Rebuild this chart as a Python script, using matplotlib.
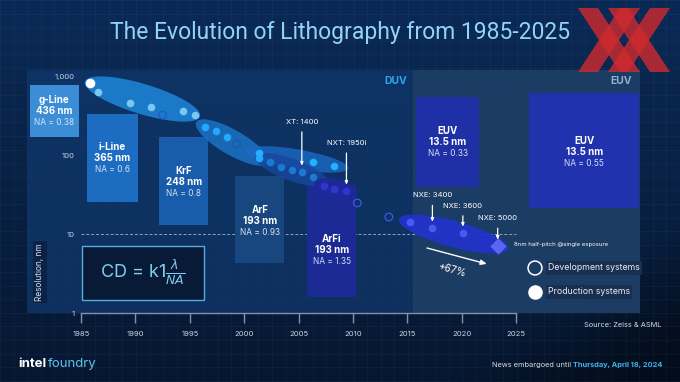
import numpy as np
import matplotlib
matplotlib.use('Agg')
import matplotlib.pyplot as plt
from matplotlib.patches import Rectangle, Polygon
from matplotlib.colors import to_rgb

W, H, DPI = 680, 382, 100

# ---------------- data ----------------
# light-source boxes (year span, resolution span in nm)
src_names = ['g-Line', 'i-Line', 'KrF', 'ArF', 'ArFi', 'EUV', 'EUV']
src_wavelength = ['436 nm', '365 nm', '248 nm', '193 nm', '193 nm', '13.5 nm', '13.5 nm']
src_na = ['NA = 0.38', 'NA = 0.6', 'NA = 0.8', 'NA = 0.93', 'NA = 1.35', 'NA = 0.33', 'NA = 0.55']
src_start = [1980.3, 1985.6, 1992.2, 1999.2, 2005.8, 2015.8, 2026.2]
src_end = [1984.8, 1990.2, 1996.7, 2003.7, 2010.3, 2021.6, 2036.3]
src_top = [789, 338, 172, 55, 42, 556, 624]
src_bottom = [172, 25.7, 13.1, 4.3, 1.6, 40, 21.6]
src_label_y = [369, 93, 46, 14.8, 6.3, 149, 111]

# systems (year, resolution nm); dev = development system (open ring)
g1_years = [1985.8, 1986.6, 1989.5, 1991.4, 1992.5, 1994.4, 1995.5]
g1_res = [836, 643, 466, 415, 328, 369, 328]
g1_dev = [False, False, False, False, True, False, False]

g2_years = [1996.4, 1997.4, 1998.4, 1999.3, 2001.4]
g2_res = [231, 205, 172, 140, 93]
g2_dev = [False, False, False, True, False]

g3_years = [2001.4, 2006.3, 2008.3]
g3_res = [108, 83, 74]
g3_dev = [False, False, False]

g4_years = [2002.4, 2003.4, 2004.4, 2005.3, 2006.3]
g4_res = [83, 72, 66, 62, 53]
g4_dev = [False, False, False, False, False]

g5_years = [2007.3, 2008.3, 2009.4, 2010.4]
g5_res = [41, 38, 35.5, 25]
g5_dev = [False, False, False, True]

g6_years = [2013.3, 2015.2, 2017.3, 2020.1]
g6_res = [16.6, 14.3, 12.0, 10.4]
g6_dev = [True, False, False, False]

nxe5000_year, nxe5000_res = 2023.3, 7.1

year_ticks = [1985, 1990, 1995, 2000, 2005, 2010, 2015, 2020, 2025]
res_ticks = [1, 10, 100, 1000]
res_tick_labels = ['1', '10', '100', '1,000']

# ---------------- figure ----------------
fig = plt.figure(figsize=(W / DPI, H / DPI), dpi=DPI)

# background gradient
bg = fig.add_axes([0, 0, 1, 1], zorder=-10)
yy, xx = np.mgrid[0:H, 0:W]
top = np.array(to_rgb('#0a2a56'))
bot = np.array(to_rgb('#061731'))
t = (yy / H)[..., None]
img = top * (1 - t) + bot * t
dark = np.clip(((xx - 560) / 120.0 + (yy - 300) / 80.0) / 1.5, 0, 1)[..., None]
img = img * (1 - 0.45 * dark)
bg.imshow(img, aspect='auto', extent=[0, W, H, 0])
for gx in np.arange(0, W, 13.6):
    bg.axvline(gx, color='white', alpha=0.035, lw=0.6)
for gy in np.arange(0, H, 13.6):
    bg.axhline(gy, color='white', alpha=0.035, lw=0.6)
bg.set_xlim(0, W); bg.set_ylim(H, 0)
bg.axis('off')

# main axes (panel)
axL, axR, axT, axB = 27, 640, 70, 313
ax = fig.add_axes([axL / W, 1 - axB / H, (axR - axL) / W, (axB - axT) / H])
x0, x1 = 1980.04, 2036.38
y0, y1 = 1, 1224
ax.set_yscale('log')
ax.set_xlim(x0, x1)
ax.set_ylim(y0, y1)
ax.set_facecolor((0.06, 0.21, 0.41, 0.8))
ax.axvspan(2015.5, x1, color='#1d3d64', alpha=0.93, zorder=0)

ax.set_xticks(year_ticks)
ax.set_xticklabels([str(y) for y in year_ticks])
ax.set_yticks(res_ticks)
ax.set_yticklabels(res_tick_labels)
ax.minorticks_off()
ax.tick_params(axis='x', direction='out', length=7, width=1, colors='#8093ad',
               labelcolor='#c9d3e2', labelsize=5.5, pad=6)
ax.tick_params(axis='y', length=0, pad=-34.5, labelcolor='#c9d3e2', labelsize=5.5)
for lab in ax.get_xticklabels() + ax.get_yticklabels():
    lab.set_family('Inter')
for s in ['top', 'right', 'left']:
    ax.spines[s].set_visible(False)
ax.spines['bottom'].set_bounds(1985, 2025)
ax.spines['bottom'].set_color('#8093ad')
ax.spines['bottom'].set_linewidth(1)

# dashed 10 nm line
ax.plot([1985, 2025], [10, 10], ls=(0, (3, 2)), color='#8ea3bf', lw=0.7, zorder=1)

# light-source boxes
box_colors = ['#3b8ed6', '#1c6dc2', '#195cab', '#18477f', '#1b2a94', '#1f2fa6', '#2032ad']
for i in range(len(src_names)):
    ax.bar(src_start[i], src_top[i] - src_bottom[i], width=src_end[i] - src_start[i],
           bottom=src_bottom[i], align='edge', color=box_colors[i], zorder=2, lw=0)
    xc = 0.5 * (src_start[i] + src_end[i])
    ax.annotate(src_names[i], (xc, src_label_y[i]), xytext=(0, 8.2), textcoords='offset points',
                ha='center', va='center', color='white', fontsize=7, weight='bold',
                family='Inter', zorder=3)
    ax.annotate(src_wavelength[i], (xc, src_label_y[i]), xytext=(0, 0), textcoords='offset points',
                ha='center', va='center', color='white', fontsize=7, weight='bold',
                family='Inter', zorder=3)
    ax.annotate(src_na[i], (xc, src_label_y[i]), xytext=(0, -8.2), textcoords='offset points',
                ha='center', va='center', color='#d6e2f2', fontsize=6,
                family='Inter', zorder=3)

# pixel scale for drawing isotropic ellipses
sx = (axR - axL) / (x1 - x0)
sy = (axB - axT) / np.log10(y1 / y0)


def blob(xa, ya, xb, yb, pad, thick, color, alpha, z=4):
    ua, va = (xa - x0) * sx, np.log10(ya) * sy
    ub, vb = (xb - x0) * sx, np.log10(yb) * sy
    du, dv = ub - ua, vb - va
    L = np.hypot(du, dv) + 2 * pad
    ang = np.arctan2(dv, du)
    tt = np.linspace(0, 2 * np.pi, 120)
    ex, ey = L / 2 * np.cos(tt), thick / 2 * np.sin(tt)
    uc, vc = (ua + ub) / 2, (va + vb) / 2
    u = uc + ex * np.cos(ang) - ey * np.sin(ang)
    v = vc + ex * np.sin(ang) + ey * np.cos(ang)
    ax.fill(u / sx + x0, 10 ** (v / sy), color=color, alpha=alpha, lw=0, zorder=z)


groups = [
    (g1_years, g1_res, g1_dev, '#1e88da', 0.85, '#7cc6f2', '#2a56c8', 30, 5, 0, -1),
    (g2_years, g2_res, g2_dev, '#1a72c6', 0.85, '#22a8ff', '#1a5aa8', 25, 10, 0, -1),
    (g3_years, g3_res, g3_dev, '#1c6ac4', 0.8, '#22b0ff', '#1a5aa8', 20, 14, 0, -1),
    (g4_years, g4_res, g4_dev, '#17479e', 0.85, '#1d78d0', '#1a5aa8', 22, 16, 0, -1),
    (g5_years, g5_res, g5_dev, '#1f289e', 0.9, '#3036cc', '#3a5ae8', 20, 10, 0, 2),
]
for (gy, gr, gd, ec, ea, dc, rc, th, pad, ia, ib) in groups:
    blob(gy[ia], gr[ia], gy[ib], gr[ib], pad, th, ec, ea)

# EUV blob from first production system to NXE:5000
blob(g6_years[1], g6_res[1], nxe5000_year, nxe5000_res, 11, 26, '#2233c8', 0.95)

for (gy, gr, gd, ec, ea, dc, rc, th, pad, ia, ib) in groups + [
        (g6_years, g6_res, g6_dev, None, None, '#4a5af0', '#3a5ae8', 0, 0, 0, 0)]:
    gy, gr, gd = np.array(gy), np.array(gr), np.array(gd)
    ax.scatter(gy[~gd], gr[~gd], s=30, color=dc, lw=0, zorder=6)
    ax.scatter(gy[gd], gr[gd], s=30, facecolor='none', edgecolor=rc, lw=0.9, zorder=6)

# first g-line system highlighted
ax.scatter([g1_years[0]], [g1_res[0]], s=48, color='white', lw=0, zorder=7)
ax.scatter([nxe5000_year], [nxe5000_res], s=70, marker='D', color='#5a66f2', lw=0, zorder=6)

# system annotations
ann = [
    ('XT: 1400', g4_years[3], g4_res[3], 36),
    ('NXT: 1950i', g5_years[2], g5_res[2], 34.5),
    ('NXE: 3400', g6_years[2], g6_res[2], 23.5),
    ('NXE: 3600', g6_years[3], g6_res[3], 19.5),
    ('NXE: 5000', nxe5000_year, nxe5000_res, 20),
]
for txt, xv, yv, dy in ann:
    ax.annotate(txt, (xv, yv), xytext=(0, dy), textcoords='offset points', ha='center',
                va='center', color='white', fontsize=5.5, family='Inter', zorder=8,
                arrowprops=dict(arrowstyle='-|>,head_length=0.35,head_width=0.15', color='white',
                                lw=0.9, shrinkA=3, shrinkB=4.5))

ax.text(2024.8, 7.5, '8nm half-pitch @single exposure', color='white', fontsize=4.3,
        family='Inter', va='center', ha='left', zorder=8)

# +67% arrow
ax.annotate('', xy=(2022.3, 4.2), xytext=(2016.8, 6.7),
            arrowprops=dict(arrowstyle='-|>,head_length=0.35,head_width=0.15', color='white', lw=1,
                            shrinkA=0, shrinkB=0), zorder=8)
ax.text(2019.1, 3.5, '+67%', color='white', fontsize=7.3, family='Inter', rotation=-16,
        ha='center', va='center', zorder=8)

# region labels
ax.text(2014.96, 887, 'DUV', color='#2ea4ea', fontsize=7.5, weight='bold', family='Inter',
        ha='right', va='center')
ax.text(2035.6, 887, 'EUV', color='#8fb0d2', fontsize=7.5, weight='bold', family='Inter',
        ha='right', va='center')


def axpt(px, py):
    return (px - axL) / (axR - axL), (axB - py) / (axB - axT)


# legend
lx, ly = axpt(535, 268)
ax.scatter([lx], [ly], s=100, facecolor='none', edgecolor='white', lw=1.1,
           transform=ax.transAxes, zorder=8)
tx, _ = axpt(548, 268)
ax.text(tx, ly, 'Development systems', transform=ax.transAxes, color='#e6edf6', fontsize=6.3,
        family='Inter', va='center', ha='left', zorder=8,
        bbox=dict(boxstyle='square,pad=0.25', fc='#1a2f4f', ec='none'))
lx2, ly2 = axpt(535, 292)
ax.scatter([lx2], [ly2], s=110, color='white', lw=0, transform=ax.transAxes, zorder=8)
ax.text(tx, ly2, 'Production systems', transform=ax.transAxes, color='#e6edf6', fontsize=6.3,
        family='Inter', va='center', ha='left', zorder=8,
        bbox=dict(boxstyle='square,pad=0.25', fc='#1a2f4f', ec='none'))

# formula box
fx0, fy0 = axpt(82, 300)
fx1, fy1 = axpt(204, 246)
ax.add_patch(Rectangle((fx0, fy0), fx1 - fx0, fy1 - fy0, transform=ax.transAxes,
                       facecolor='#081a35', edgecolor='#58addf', lw=1, zorder=5))
cx, cy = axpt(143, 273)
ax.text(cx, cy, r'CD = k1$\frac{\lambda}{NA}$', transform=ax.transAxes, color='#7fcdf0',
        fontsize=13, family='Inter', ha='center', va='center', zorder=6)

# y label
rx, ry = axpt(40, 272)
ax.text(rx, ry, 'Resolution, nm', transform=ax.transAxes, rotation=90, color='#d6dfea',
        fontsize=6, family='Inter', ha='center', va='center', zorder=6,
        bbox=dict(boxstyle='square,pad=0.25', fc='#0b2246', ec='none'))

# title and footers
fig.text(340 / W, 1 - 33 / H, 'The Evolution of Lithography from 1985-2025', ha='center',
         va='center', color='#93d3f3', fontsize=16.5, family='Roboto', weight='normal')
fig.text(661 / W, 1 - 325 / H, 'Source: Zeiss & ASML', ha='right', va='center',
         color='#d6dfea', fontsize=5.3, family='Inter')

fig.canvas.draw()
r = fig.canvas.get_renderer()
tb = fig.text(662 / W, 1 - 365 / H, 'Thursday, April 18, 2024', ha='right', va='center',
              color='#3fb4f0', fontsize=5.3, family='Inter', weight='bold')
bb = tb.get_window_extent(r)
fig.text((bb.x0 - 2) / W, 1 - 365 / H, 'News embargoed until', ha='right', va='center',
         color='#d6dfea', fontsize=5.3, family='Inter')

ti = fig.text(18 / W, 1 - 364 / H, 'intel', ha='left', va='center', color='white',
              fontsize=9.5, family='Inter', weight='bold')
bi = ti.get_window_extent(r)
fig.text((bi.x1 + 2) / W, 1 - 364 / H, 'foundry', ha='left', va='center', color='#5fc3f0',
         fontsize=9.5, family='Inter')

# red XX logo
for off in [0, 30]:
    for pts in [[(578, 8), (598, 8), (640, 72), (620, 72)],
                [(620, 8), (640, 8), (598, 72), (578, 72)]]:
        P = [((px + off) / W, 1 - py / H) for px, py in pts]
        fig.patches.append(Polygon(P, closed=True, transform=fig.transFigure,
                                   facecolor='#d02a2e', alpha=0.8, lw=0, zorder=20))

fig.savefig('out.png', dpi=DPI)
